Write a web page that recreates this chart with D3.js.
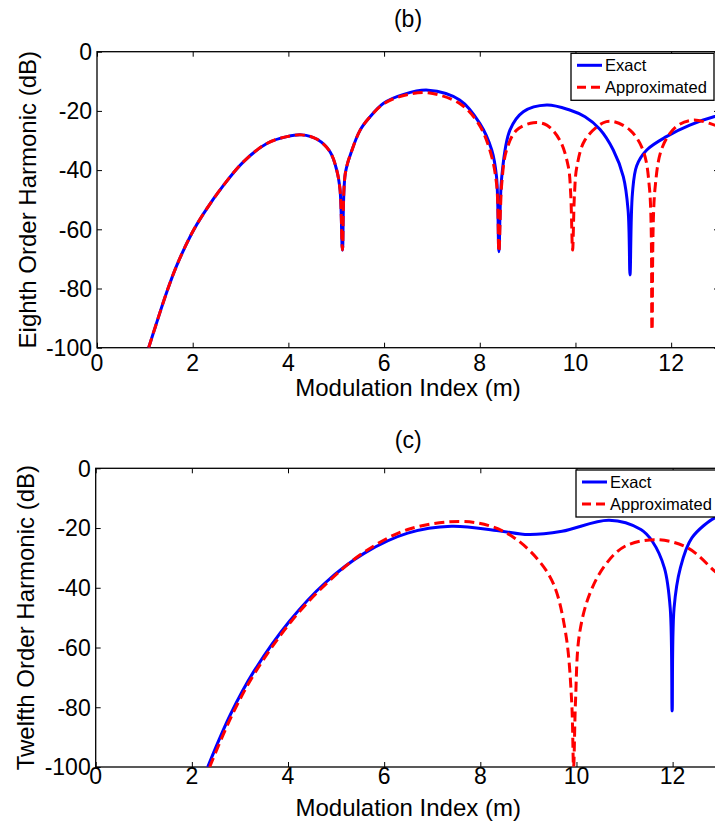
<!DOCTYPE html>
<html>
<head>
<meta charset="utf-8">
<script src="https://cdn.jsdelivr.net/npm/d3@7"></script>
<style>
  body { margin: 0; background: #fff; }
  svg { display: block; font-family: "Liberation Sans", Arial, sans-serif; }
</style>
</head>
<body>
<svg id="canvas" width="715" height="823"></svg>
<script>
// values: [modulation index m, level in dB]
let exactB = [[1.08,-100],[1.22,-92.9],[1.46,-81.1],[1.67,-72.1],[1.98,-61.4],[2.23,-54.6],[2.65,-45.0],[3.06,-37.2],[3.55,-31.0],[3.97,-28.7],[4.28,-28.1],[4.6,-29.6],[4.87,-33.8],[5.01,-40],[5.08,-46.7],[5.13,-67],[5.19,-41.1],[5.33,-33.2],[5.5,-26.5],[5.68,-22.5],[5.99,-17.4],[6.41,-14.4],[6.92,-13.0],[7.58,-16.3],[8.0,-24.2],[8.25,-33.2],[8.35,-42.2],[8.4,-67.6],[8.46,-42.2],[8.63,-26.5],[8.91,-20.3],[9.4,-18.0],[9.88,-19.7],[10.2,-22.0],[10.51,-26.2],[10.79,-33.2],[11.0,-42.2],[11.1,-53.5],[11.14,-75.4],[11.19,-48],[11.28,-38.5],[11.49,-33.2],[11.9,-28.7],[12.39,-24.8],[12.91,-21.9],[13,-21.6]]
let approxB = [[1.08,-100],[1.22,-92.9],[1.46,-81.1],[1.67,-72.1],[1.98,-61.4],[2.23,-54.6],[2.65,-45.0],[3.06,-37.2],[3.55,-31.0],[3.97,-28.7],[4.28,-28.1],[4.6,-29.6],[4.87,-33.8],[5.01,-40],[5.08,-46.7],[5.13,-67],[5.19,-41.1],[5.33,-33.2],[5.5,-26.5],[5.68,-22.5],[5.99,-17.6],[6.41,-14.8],[6.92,-13.9],[7.58,-17.5],[7.97,-24.2],[8.21,-33.2],[8.35,-44.5],[8.4,-67.6],[8.46,-44.5],[8.56,-33.2],[8.77,-26.5],[9.12,-24],[9.4,-24.8],[9.67,-29.8],[9.85,-38.8],[9.9,-47.9],[9.94,-67],[9.98,-47.9],[10.03,-38.8],[10.2,-29.8],[10.58,-24],[10.79,-23.6],[11.14,-26.5],[11.41,-33.2],[11.55,-46.7],[11.6,-94],[11.66,-46.7],[11.82,-32.1],[12.11,-25.3],[12.46,-23.1],[12.91,-24.8],[13,-25.3]]

let exactC = [[2.33,-100],[2.8,-82.5],[3.29,-68],[4.03,-51.2],[4.77,-38.4],[5.59,-28.4],[6.49,-21.7],[7.4,-19.4],[8.38,-20.9],[9.0,-22.2],[9.7,-21.1],[10.68,-17.4],[11.34,-20.5],[11.58,-24.5],[11.83,-33.4],[11.95,-46.8],[11.99,-81.2],[12.03,-46.8],[12.16,-33.4],[12.4,-23.3],[12.88,-16.6],[13,-16.3]]
let approxC = [[2.37,-100],[2.84,-82.5],[3.33,-68],[4.07,-51.2],[4.81,-38.4],[5.59,-28],[6.49,-20.5],[7.56,-17.8],[8.22,-19.4],[8.71,-23.3],[9.2,-30.6],[9.53,-39],[9.78,-55.7],[9.9,-78],[9.94,-100],[9.98,-78],[10.06,-55.7],[10.27,-42.3],[10.6,-32.3],[11.01,-26.1],[11.67,-23.9],[12.32,-26.7],[12.88,-34.5],[13,-36]]

let xTicks = [0, 2, 4, 6, 8, 10, 12]
let yTicks = [0, -20, -40, -60, -80, -100]
let seriesNames = ['Exact', 'Approximated']

let svg = d3.select('#canvas')

let drawPanel = (p) => {
    let x = d3.scaleLinear().domain([0, 13]).range([p.left, p.right])
    let y = d3.scaleLinear().domain([-100, 0]).range([p.bottom, p.top])
    let g = svg.append('g')

    g.append('clipPath').attr('id', 'clip' + p.id)
        .append('rect')
        .attr('x', p.left).attr('y', p.top)
        .attr('width', p.right - p.left).attr('height', p.bottom - p.top)

    // ticks pointing inward, on all four sides
    g.append('g').attr('transform', 'translate(0,' + p.bottom + ')')
        .call(d3.axisBottom(x).tickValues(xTicks).tickSizeInner(-5).tickSizeOuter(0).tickFormat(''))
    g.append('g').attr('transform', 'translate(0,' + p.top + ')')
        .call(d3.axisTop(x).tickValues(xTicks).tickSizeInner(-5).tickSizeOuter(0).tickFormat(''))
    g.append('g').attr('transform', 'translate(' + p.left + ',0)')
        .call(d3.axisLeft(y).tickValues(yTicks).tickSizeInner(-5).tickSizeOuter(0).tickFormat(''))
    g.append('g').attr('transform', 'translate(' + p.right + ',0)')
        .call(d3.axisRight(y).tickValues(yTicks).tickSizeInner(-5).tickSizeOuter(0).tickFormat(''))
    g.selectAll('.domain').remove()
    g.selectAll('.tick line').attr('stroke', '#000')

    g.append('rect')
        .attr('x', p.left).attr('y', p.top)
        .attr('width', p.right - p.left).attr('height', p.bottom - p.top)
        .attr('fill', 'none').attr('stroke', '#000').attr('stroke-width', 1.3)

    g.selectAll('.xlab').data(xTicks).enter().append('text')
        .attr('x', (d) => x(d)).attr('y', p.tickBase)
        .attr('text-anchor', 'middle').attr('font-size', 23)
        .text((d) => d)
    g.selectAll('.ylab').data(yTicks).enter().append('text')
        .attr('x', p.left - 5).attr('y', (d) => y(d)).attr('dy', '0.36em')
        .attr('text-anchor', 'end').attr('font-size', 23)
        .text((d) => d)

    g.append('text').attr('x', (p.left + p.right) / 2).attr('y', p.labelBase)
        .attr('text-anchor', 'middle').attr('font-size', 24)
        .text('Modulation Index (m)')
    g.append('text')
        .attr('transform', 'translate(' + p.yLabelX + ',' + (p.top + p.bottom) / 2 + ') rotate(-90)')
        .attr('text-anchor', 'middle').attr('font-size', 24)
        .text(p.yLabel)
    g.append('text').attr('x', (p.left + p.right) / 2).attr('y', p.titleBase)
        .attr('text-anchor', 'middle').attr('font-size', 23)
        .text(p.title)

    let line = d3.line()
        .x((d) => x(d[0]))
        .y((d) => y(d[1]))
        .curve(d3.curveCatmullRom.alpha(0.5))

    let plot = g.append('g').attr('clip-path', 'url(#clip' + p.id + ')')
    plot.append('path').datum(p.exact)
        .attr('d', line).attr('fill', 'none')
        .attr('stroke', '#0000ff').attr('stroke-width', 3)
    plot.append('path').datum(p.approx)
        .attr('d', line).attr('fill', 'none')
        .attr('stroke', '#ff0000').attr('stroke-width', 3)
        .attr('stroke-dasharray', '10,5')

    // legend
    let lg = g.append('g').attr('transform', 'translate(' + p.legX + ',' + p.legY + ')')
    lg.append('rect').attr('width', 143).attr('height', 47)
        .attr('fill', '#fff').attr('stroke', '#000').attr('stroke-width', 1.3)
    seriesNames.forEach((name, i) => {
        let ly = 12 + i * 22
        lg.append('line').attr('x1', 6).attr('x2', 31).attr('y1', ly).attr('y2', ly)
            .attr('stroke', i === 0 ? '#0000ff' : '#ff0000').attr('stroke-width', 3)
            .attr('stroke-dasharray', i === 0 ? null : '9,5')
        lg.append('text').attr('x', 34).attr('y', ly + 6)
            .attr('font-size', 16.5).text(name)
    })
}

drawPanel({
    id: 'b', left: 97, right: 719, top: 51.7, bottom: 347.7,
    tickBase: 371, labelBase: 396, titleBase: 27, yLabelX: 36,
    title: '(b)', yLabel: 'Eighth Order Harmonic (dB)',
    exact: exactB, approx: approxB, legX: 571, legY: 53.3
})
drawPanel({
    id: 'c', left: 95.7, right: 720.7, top: 468.3, bottom: 767,
    tickBase: 784, labelBase: 816, titleBase: 448, yLabelX: 34,
    title: '(c)', yLabel: 'Twelfth Order Harmonic (dB)',
    exact: exactC, approx: approxC, legX: 576, legY: 470
})
</script>
</body>
</html>
